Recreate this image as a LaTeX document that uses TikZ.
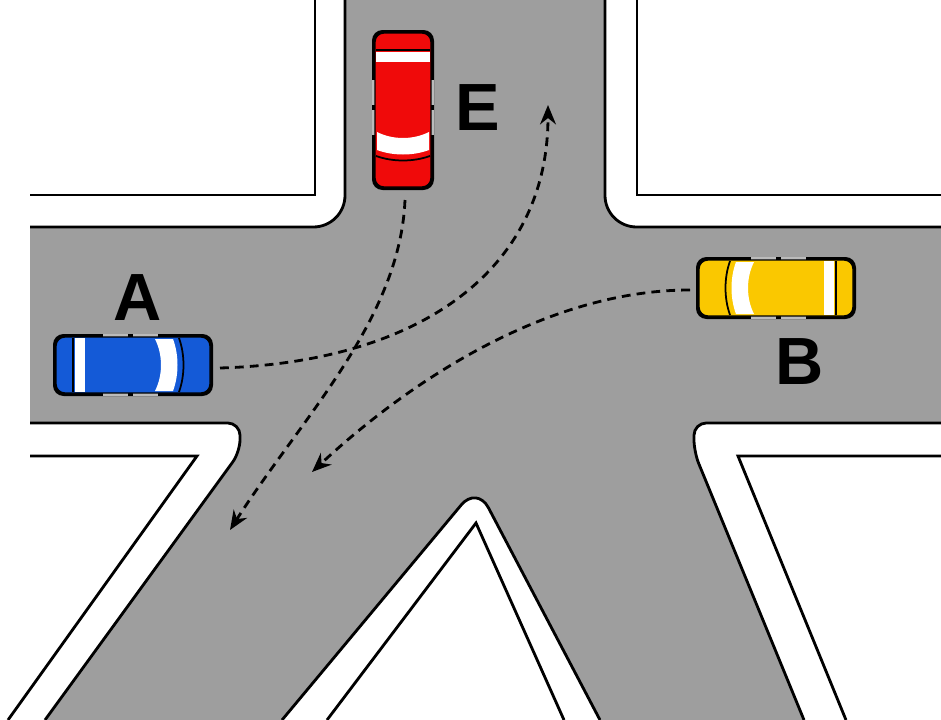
\documentclass[tikz,border=0pt]{standalone}
\usepackage{fontspec}
\setsansfont{Liberation Sans}
\usetikzlibrary{arrows.meta}

\definecolor{road}{RGB}{158,158,158}
\definecolor{carblue}{RGB}{20,90,215}
\definecolor{caryellow}{RGB}{250,200,0}
\definecolor{carred}{RGB}{240,10,10}

\tikzset{
    curb/.style={line width=1.6pt, black},
    track/.style={line width=1.6pt, dash pattern=on 5pt off 3.5pt, -{Stealth[length=11pt,width=9pt]}},
    carlabel/.style={font=\sffamily\bfseries\fontsize{38}{38}\selectfont},
    car/.pic={
        \fill[black, rounded corners=6pt] (-80,-31) rectangle (80,31);
        \fill[#1, rounded corners=5pt] (-77,-28) rectangle (77,28);
        % side windows
        \fill[road!70] (-30,-31) rectangle (-5,-28);
        \fill[road!70] (0,-31) rectangle (25,-28);
        \fill[road!70] (-30,28) rectangle (-5,31);
        \fill[road!70] (0,28) rectangle (25,31);
        % rear window
        \fill[white] (-58,-27) rectangle (-48,27);
        \draw[black, line width=0.6pt] (-60,-27) -- (-60,27);
        % windshield
        \fill[white] (22,-26) .. controls (30,-10) and (30,10) .. (22,26)
            -- (40,26) .. controls (46,10) and (46,-10) .. (40,-26) -- cycle;
        \draw[black, line width=1pt] (46,-27) .. controls (52,-10) and (52,10) .. (46,27);
        \draw[black, line width=0.8pt, rounded corners=5pt] (-77,-28) rectangle (77,28);
    }
}

\begin{document}
\begin{tikzpicture}[x=0.02cm, y=-0.02cm]
    \useasboundingbox (0,0) rectangle (941,720);
    \fill[white] (0,0) rectangle (941,720);
    % road surface
    \fill[road] (345,-20) [rounded corners=18pt] -- (345,227) [sharp corners] -- (30,227)
        -- (30,423) [rounded corners=7pt] -- (240,423) -- (240,452) [sharp corners] -- (45,720)
        -- (282,720) [rounded corners=14pt] -- (477,486) [sharp corners] -- (600,720)
        -- (804,720) [rounded corners=7pt] -- (694,452) -- (694,423) [sharp corners] -- (941,423)
        -- (941,227) [rounded corners=18pt] -- (605,227) [sharp corners] -- (605,-20) -- cycle;
    % curbs
    \draw[curb, rounded corners=18pt] (345,0) -- (345,227) -- (30,227);
    \draw[curb, rounded corners=18pt] (605,0) -- (605,227) -- (941,227);
    \draw[curb, rounded corners=7pt] (30,423) -- (240,423) -- (240,452) -- (45,720);
    \draw[curb, rounded corners=7pt] (941,423) -- (694,423) -- (694,452) -- (804,720);
    \draw[curb, rounded corners=14pt] (282,720) -- (477,486) -- (600,720);
    % inner block edges
    \draw[curb] (30,195) -- (315,195) -- (315,0);
    \draw[curb] (941,195) -- (637,195) -- (637,0);
    \draw[curb] (30,456) -- (197,456) -- (8,720);
    \draw[curb] (941,456) -- (738,456) -- (846,720);
    \draw[curb] (327,720) -- (476,523) -- (564,720);
    % cars
    \pic (carA) at (133,365) {car=carblue};
    \pic[rotate=180] (carB) at (776,288) {car=caryellow};
    \pic[rotate=-90] (carE) at (403,110) {car=carred};
    \coordinate (frontA) at (220,368);
    \coordinate (frontB) at (690,290);
    \coordinate (frontE) at (405,200);
    \coordinate (goalA) at (548,105);
    \coordinate (goalB) at (312,472);
    \coordinate (goalE) at (230,530);
    % labels
    \node[carlabel] (labA) at (138,298) {A};
    \node[carlabel] (labB) at (800,362) {B};
    \node[carlabel] (labE) at (478,108) {E};
    % tracks
    \draw[track] (frontA) .. controls (420,362) and (548,270) .. (goalA);
    \draw[track] (frontB) .. controls (540,290) and (400,390) .. (goalB);
    \draw[track] (frontE) .. controls (400,320) and (300,420) .. (goalE);
\end{tikzpicture}
\end{document}
